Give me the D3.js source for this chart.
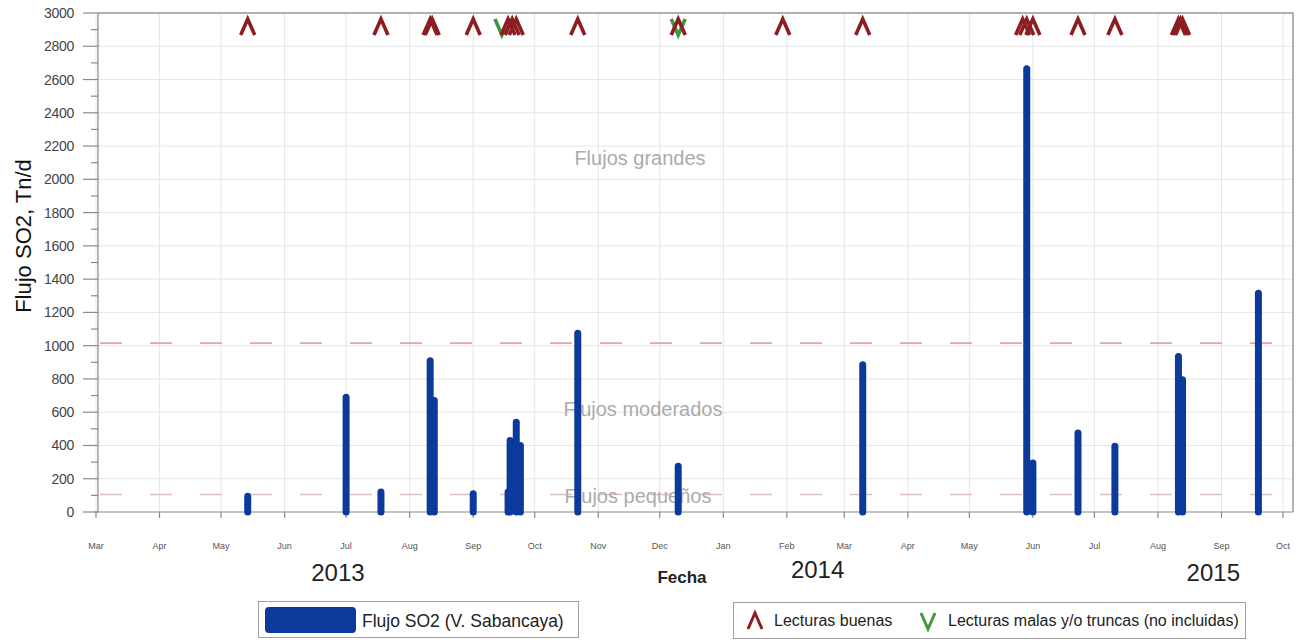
<!DOCTYPE html>
<html>
<head>
<meta charset="utf-8">
<script src="https://cdn.jsdelivr.net/npm/d3@7"></script>
<style>
  html, body { margin: 0; padding: 0; background: #fff; }
  svg { display: block; font-family: "Liberation Sans", Arial, sans-serif; }
</style>
</head>
<body>
<svg id="chart" width="1302" height="644"></svg>
<script>
// SO2 flux measurements, Sabancaya volcano
const barDates  = ["2013-05-14","2013-07-01","2013-07-18","2013-08-11","2013-08-13","2013-09-01",
                   "2013-09-18","2013-09-19","2013-09-22","2013-09-24","2013-10-22","2013-12-10",
                   "2014-03-10","2014-05-29","2014-06-01","2014-06-23","2014-07-11","2014-08-11",
                   "2014-08-13","2014-09-19"];
const barValues = [95, 690, 120, 910, 670, 110,
                   120, 430, 540, 400, 1075, 275,
                   885, 2665, 295, 475, 395, 935,
                   795, 1315];

// Reading quality flags shown along the top of the plot
const goodDates = ["2013-05-14","2013-07-18","2013-08-11","2013-08-12","2013-09-01","2013-09-18",
                   "2013-09-20","2013-09-22","2013-10-22","2013-12-10","2014-01-30","2014-03-10",
                   "2014-05-27","2014-05-29","2014-06-01","2014-06-23","2014-07-11","2014-08-11",
                   "2014-08-12","2014-08-13"];
const badDates  = ["2013-09-15","2013-12-10"];

// Axis ticks and labels
const monthLabels = ["Mar","Apr","May","Jun","Jul","Aug","Sep","Oct","Nov","Dec",
                     "Jan","Feb","Mar","Apr","May","Jun","Jul","Aug","Sep","Oct"];
const yTicks = [0,200,400,600,800,1000,1200,1400,1600,1800,2000,2200,2400,2600,2800,3000];
const yearLabels = ["2013","2014","2015"];
const yearDates  = ["2013-06-27","2014-02-16","2014-08-28"];

// Flux class thresholds and their names
const thresholds = [1015, 105];
const zoneNames  = ["Flujos grandes","Flujos moderados","Flujos pequeños"];
const zoneValues = [2130, 620, 95];

const parse = d3.timeParse("%Y-%m-%d");
const svg = d3.select("#chart");

const x = d3.scaleTime()
  .domain([parse("2013-03-01"), parse("2014-10-01")])
  .range([96, 1283]);
const y = d3.scaleLinear().domain([0, 3000]).range([512, 13]);

const pL = 98, pR = 1293, pT = 13, pB = 512;
const months = d3.timeMonth.range(parse("2013-03-01"), parse("2014-10-02"));

// grid
const grid = svg.append("g");
grid.selectAll(".gx").data(months).join("line")
  .attr("x1", d => x(d)).attr("x2", d => x(d))
  .attr("y1", pT).attr("y2", pB)
  .attr("stroke", "#e6e6e6").attr("stroke-width", 1);
grid.selectAll(".gy").data(yTicks.slice(1)).join("line")
  .attr("x1", pL).attr("x2", pR)
  .attr("y1", d => y(d)).attr("y2", d => y(d))
  .attr("stroke", "#e6e6e6").attr("stroke-width", 1);

// frame
svg.append("path")
  .attr("d", `M${pL},${pT}H${pR}V${pB}`)
  .attr("fill", "none").attr("stroke", "#9a9a9a").attr("stroke-width", 1.5);

// threshold lines
svg.selectAll(".thr").data(thresholds).join("line")
  .attr("x1", pL + 2).attr("x2", pR - 2)
  .attr("y1", d => y(d)).attr("y2", d => y(d))
  .attr("stroke", (d, i) => i === 0 ? "#e7a3a6" : "#dcc0c0")
  .attr("stroke-width", 1.6)
  .attr("stroke-dasharray", "22,28");

// zone labels
svg.selectAll(".zone").data(zoneNames).join("text")
  .attr("x", (d, i) => [640, 643, 638][i])
  .attr("y", (d, i) => y(zoneValues[i]) + 7)
  .attr("text-anchor", "middle")
  .attr("font-size", 20).attr("fill", "#ababab")
  .text(d => d);

// y axis
const yAxis = svg.append("g");
yAxis.append("line").attr("x1", pL).attr("x2", pL).attr("y1", pT).attr("y2", pB)
  .attr("stroke", "#8a8a8a").attr("stroke-width", 1.2);
yAxis.selectAll(".ymaj").data(yTicks).join("line")
  .attr("x1", 83).attr("x2", pL).attr("y1", d => y(d)).attr("y2", d => y(d))
  .attr("stroke", "#8a8a8a").attr("stroke-width", 1.2);
yAxis.selectAll(".ymin").data(yTicks.slice(1).map(v => v - 100)).join("line")
  .attr("x1", 91).attr("x2", pL).attr("y1", d => y(d)).attr("y2", d => y(d))
  .attr("stroke", "#8a8a8a").attr("stroke-width", 1.2);
yAxis.selectAll(".ylab").data(yTicks).join("text")
  .attr("x", 74).attr("y", d => y(d) + 5)
  .attr("text-anchor", "end").attr("font-size", 14).attr("fill", "#444")
  .attr("letter-spacing", "-0.3")
  .text(d => d);

// x axis
const xAxis = svg.append("g");
xAxis.append("line").attr("x1", 94).attr("x2", pR).attr("y1", pB).attr("y2", pB)
  .attr("stroke", "#8a8a8a").attr("stroke-width", 1.2);
xAxis.selectAll(".xt").data(months).join("line")
  .attr("x1", d => x(d)).attr("x2", d => x(d)).attr("y1", pB).attr("y2", pB + 6)
  .attr("stroke", "#8a8a8a").attr("stroke-width", 1.2);
xAxis.selectAll(".xl").data(months).join("text")
  .attr("x", d => x(d)).attr("y", 549)
  .attr("text-anchor", "middle").attr("font-size", 9).attr("fill", "#555")
  .text((d, i) => monthLabels[i]);

// bars
svg.append("g").selectAll("line").data(barDates).join("line")
  .attr("x1", d => x(parse(d))).attr("x2", d => x(parse(d)))
  .attr("y1", y(0)).attr("y2", (d, i) => y(barValues[i]))
  .attr("stroke", "#0c3a9a").attr("stroke-width", 7).attr("stroke-linecap", "round");

// reading markers
const caret = "M-7,8L0,-8L7,8";
const vee = "M-7,-8L0,8L7,-8";
svg.append("g").selectAll("path").data(badDates).join("path")
  .attr("transform", d => `translate(${x(parse(d))},27)`)
  .attr("d", vee).attr("fill", "none")
  .attr("stroke", "#3d9a3d").attr("stroke-width", 3.6).attr("stroke-linejoin", "miter");
svg.append("g").selectAll("path").data(goodDates).join("path")
  .attr("transform", d => `translate(${x(parse(d))},27)`)
  .attr("d", caret).attr("fill", "none")
  .attr("stroke", "#8c1d22").attr("stroke-width", 3.6).attr("stroke-linejoin", "miter");

// axis titles
svg.append("text")
  .attr("transform", "translate(31,236) rotate(-90)")
  .attr("text-anchor", "middle").attr("font-size", 22).attr("fill", "#111")
  .text("Flujo SO2, Tn/d");
svg.append("text")
  .attr("x", 682).attr("y", 583).attr("text-anchor", "middle")
  .attr("font-size", 17).attr("font-weight", "bold").attr("fill", "#222")
  .text("Fecha");
svg.selectAll(".year").data(yearLabels).join("text")
  .attr("x", (d, i) => x(parse(yearDates[i])))
  .attr("y", (d, i) => [581, 578, 581][i])
  .attr("text-anchor", "middle").attr("font-size", 24).attr("fill", "#222")
  .text(d => d);

// legends
const lg1 = svg.append("g");
lg1.append("rect").attr("x", 258.5).attr("y", 601.5).attr("width", 320).attr("height", 36)
  .attr("fill", "#fff").attr("stroke", "#a0a0a0");
lg1.append("rect").attr("x", 265).attr("y", 607).attr("width", 91).attr("height", 26).attr("rx", 4)
  .attr("fill", "#0c3a9a");
lg1.append("text").attr("x", 362).attr("y", 627).attr("font-size", 17.5)
  .attr("fill", "#222").text("Flujo SO2  (V. Sabancaya)");

const lg2 = svg.append("g");
lg2.append("rect").attr("x", 733.5).attr("y", 602.5).attr("width", 512).attr("height", 36)
  .attr("fill", "#fff").attr("stroke", "#a0a0a0");
lg2.append("path").attr("transform", "translate(755,621)").attr("d", caret)
  .attr("fill", "none").attr("stroke", "#8c1d22").attr("stroke-width", 3);
lg2.append("text").attr("x", 774).attr("y", 626).attr("font-size", 16)
  .attr("fill", "#222").text("Lecturas buenas");
lg2.append("path").attr("transform", "translate(928,621)").attr("d", vee)
  .attr("fill", "none").attr("stroke", "#3d9a3d").attr("stroke-width", 3);
lg2.append("text").attr("x", 948).attr("y", 626).attr("font-size", 16)
  .attr("fill", "#222").text("Lecturas malas y/o truncas (no incluidas)");
</script>
</body>
</html>
